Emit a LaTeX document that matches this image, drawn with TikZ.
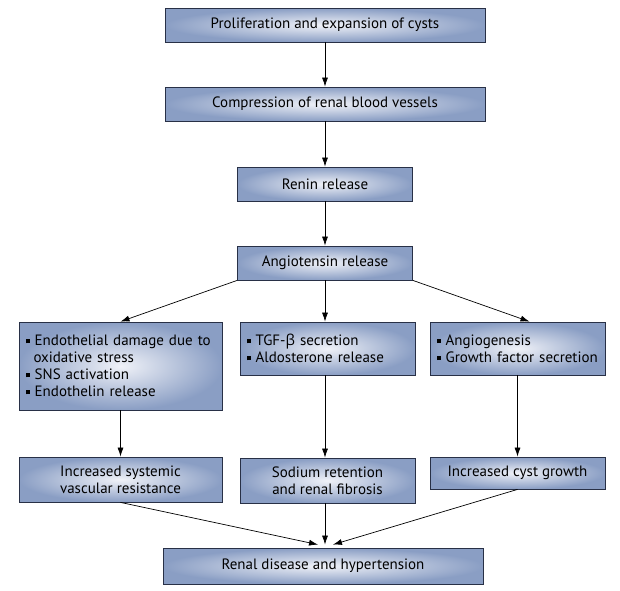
\documentclass[tikz,border=0pt]{standalone}
\usepackage{fontspec}
\setmainfont{PT Sans}
\newfontfamily\grkfont{Open Sans}
\usetikzlibrary{arrows.meta, calc}

\definecolor{boxblue}{RGB}{138,158,196}
\definecolor{boxlight}{RGB}{240,242,248}
\definecolor{boxline}{RGB}{40,48,70}

\newcommand{\sqb}{\rule[0.15em]{0.28em}{0.28em}\hspace{0.3em}}

\tikzset{
  stage/.style={draw=boxline, line width=0.8pt, inner color=boxlight,
    outer color=boxblue, font=\fontsize{15}{17}\selectfont, align=center},
  listbox/.style={stage, align=left, inner xsep=7pt},
  flow/.style={-{Latex[length=9pt,width=6pt]}, line width=0.7pt}
}

\begin{document}
\begin{tikzpicture}[x=1pt, y=-1pt]
  \useasboundingbox (0,0) rectangle (620,590);

  \node[stage, minimum width=320, minimum height=34] (prolif) at (325,25) {Proliferation and expansion of cysts};
  \node[stage, minimum width=320, minimum height=34] (compr) at (325,104) {Compression of renal blood vessels};
  \node[stage, minimum width=175, minimum height=34] (renin) at (325,184) {Renin release};
  \node[stage, minimum width=175, minimum height=34] (angio) at (325,263) {Angiotensin release};

  % three effects of angiotensin
  \node[listbox, minimum width=203, minimum height=88, text width=189] (endo) at (120.5,366)
    {\parindent=0pt \parskip=0pt
     \sqb Endothelial damage due to oxidative stress\hangindent=0.5em\hangafter=1\par
     \sqb SNS activation\par
     \sqb Endothelin release};
  \node[listbox, minimum width=175, minimum height=53, text width=161] (tgf) at (327.5,348.5)
    {\sqb TGF-{\grkfont β} secretion\\ \sqb Aldosterone release};
  \node[listbox, minimum width=175, minimum height=53, text width=161] (grow) at (517.5,348.5)
    {\sqb Angiogenesis\\ \sqb Growth factor secretion};

  \node[stage, minimum width=203, minimum height=45] (svr) at (120.5,479.5) {Increased systemic\\ vascular resistance};
  \node[stage, minimum width=175, minimum height=45] (sodium) at (327.5,480.5) {Sodium retention\\ and renal fibrosis};
  \node[stage, minimum width=175, minimum height=32] (cyst) at (517.5,473) {Increased cyst growth};

  \node[stage, minimum width=320, minimum height=36] (renal) at (323,566) {Renal disease and hypertension};

  \draw[flow] (prolif) -- (compr);
  \draw[flow] (compr) -- (renin);
  \draw[flow] (renin) -- (angio);
  \draw[flow] (angio.south west) -- (endo.north);
  \draw[flow] (angio) -- (angio |- tgf.north);
  \draw[flow] (angio.south east) -- ($(grow.north)+(12,0)$);

  \draw[flow] (endo) -- (svr);
  \draw[flow] (tgf.south -| angio) -- (sodium.north -| angio);
  \draw[flow] (grow) -- (cyst);

  \draw[flow] (svr.south) -- ($(renal.north)+(-5,-3)$);
  \draw[flow] (sodium.south -| angio) -- ($(renal.north -| angio)+(0,-3)$);
  \draw[flow] (cyst.south) -- ($(renal.north)+(10,-3)$);
\end{tikzpicture}
\end{document}
